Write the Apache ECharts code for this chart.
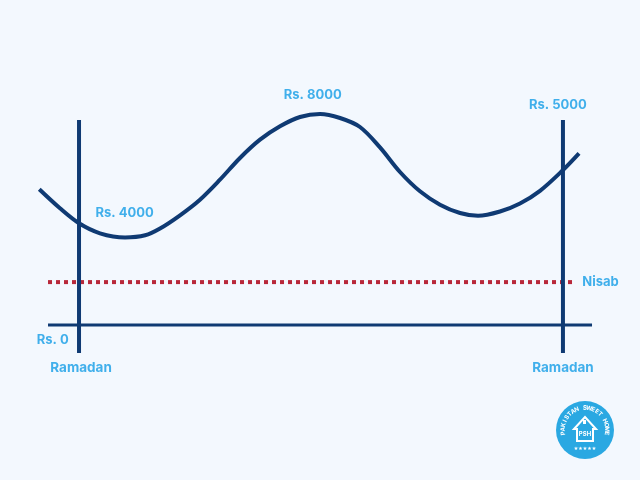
<!DOCTYPE html>
<html><head><meta charset="utf-8">
<script src="https://cdn.jsdelivr.net/npm/echarts@6/dist/echarts.min.js"></script>
<style>html,body{margin:0;padding:0;background:#f3f8fe}#c{width:640px;height:480px}</style>
</head><body><div id="c"></div>
<script>
// Balance curve (x: time through the year, y: wealth level, arbitrary units)
const curveX = [1.63, 5.26, 8.6, 12.28, 16.67, 20.2, 22.81, 26.32, 29.82, 33.33, 36.84, 40.35, 43.86, 47.37, 50.88, 54.39, 57.89, 61.4, 64.91, 68.42, 71.93, 75.44, 78.6, 82.46, 85.96, 89.47, 93.33, 96.32];
const curveY = [45.23, 38.9, 33.9, 30.57, 29.17, 29.9, 32.17, 36.57, 41.77, 48.43, 55.67, 61.77, 66.23, 69.33, 70.33, 69.0, 66.0, 59.2, 51.0, 44.57, 40.1, 37.33, 36.4, 37.83, 40.5, 44.73, 51.33, 57.23];
const ramadanX = [8.6, 93.5];
const ramadanRange = [-9.3, 68.3];
const baseRange = [3.16, 98.6];
const nisabLevel = 14.3;
const nisabRange = [3.16, 95.1];
const moneyLabels = ['Rs. 4000', 'Rs. 8000', 'Rs. 5000', 'Rs. 0'];
const moneyX = [16.6, 49.6, 92.6, 4.0];
const moneyY = [37.3, 76.7, 73.3, -5];
const ramadanLabel = 'Ramadan';
const ramadanLabelX = [8.95, 93.5];
const ramadanLabelY = -14.3;
const nisabLabel = 'Nisab';
const nisabLabelX = 96.8;

const navy = '#0f3a73';
const sky = '#139ce6';
const red = '#b8283a';
const font = 'Inter';

const series = [];
series.push({type:'line', data: curveX.map((x,i)=>[x,curveY[i]]), smooth:0.33, symbol:'none',
  lineStyle:{color:navy,width:4}, z:3});
ramadanX.forEach(x=>series.push({type:'line', data:[[x,ramadanRange[0]],[x,ramadanRange[1]]], symbol:'none',
  lineStyle:{color:navy,width:4}, z:2}));
series.push({type:'line', data:[[baseRange[0],0],[baseRange[1],0]], symbol:'none', lineStyle:{color:navy,width:3}, z:2});
series.push({type:'line', data:[[nisabRange[0],nisabLevel],[nisabRange[1],nisabLevel]], symbol:'none',
  lineStyle:{color:red,width:4,type:[4,4]}, z:1});
const lbl = {show:true, position:'inside', color:sky, fontFamily:font, fontWeight:'bold', fontSize:13, formatter:p=>p.name};
const pts = moneyLabels.map((t,i)=>({name:t, value:[moneyX[i],moneyY[i]]}));
ramadanLabelX.forEach(x=>pts.push({name:ramadanLabel, value:[x,ramadanLabelY], label:{fontSize:13.5}}));
pts.push({name:nisabLabel, value:[nisabLabelX,nisabLevel], label:{position:'right', distance:0}});
series.push({type:'scatter', data:pts, symbolSize:1, itemStyle:{color:'rgba(0,0,0,0)'}, label:lbl, z:5});

// decorative logo
const cx = 585, cy = 430;
const logo = [
  {type:'circle', shape:{cx:cx,cy:cy,r:29}, style:{fill:'#2aa8e2'}},
  {type:'polygon', shape:{points:[[cx-11,cy-1],[cx,cy-13],[cx+11,cy-1],[cx+8,cy-1],[cx+8,cy+11],[cx-8,cy+11],[cx-8,cy-1]]}, style:{fill:'none',stroke:'#ffffff',lineWidth:2}},
  {type:'rect', shape:{x:cx-2,y:cy-10,width:3,height:4}, style:{fill:'#ffffff'}},
  {type:'text', style:{x:cx,y:cy+4,text:'PSH',fill:'#ffffff',font:'bold 6px Inter',align:'center',verticalAlign:'middle'}},
  {type:'text', style:{x:cx,y:cy+19,text:'★★★★★',fill:'#ffffff',font:'5px "DejaVu Sans"',align:'center',verticalAlign:'middle'}}
];
const ring = 'PAKISTAN SWEET HOME';
const a0 = -Math.PI * 1.08, a1 = -Math.PI * -0.08;
for (let i = 0; i < ring.length; i++) {
  const a = a0 + (a1 - a0) * (i + 0.5) / ring.length;
  logo.push({type:'text', x:cx + 22*Math.cos(a), y:cy + 22*Math.sin(a), rotation:-(a + Math.PI/2),
    style:{x:0,y:0,text:ring[i],fill:'#ffffff',font:'bold 6px Inter',align:'center',verticalAlign:'middle'}});
}

const chart = echarts.init(document.getElementById('c'));
chart.setOption({
  backgroundColor:'#f3f8fe',
  animation:false,
  grid:{left:30,right:40,top:25,bottom:95},
  xAxis:{type:'value',min:0,max:100,show:false},
  yAxis:{type:'value',min:-20,max:100,show:false},
  series:series,
  graphic:logo
});
</script></body></html>
